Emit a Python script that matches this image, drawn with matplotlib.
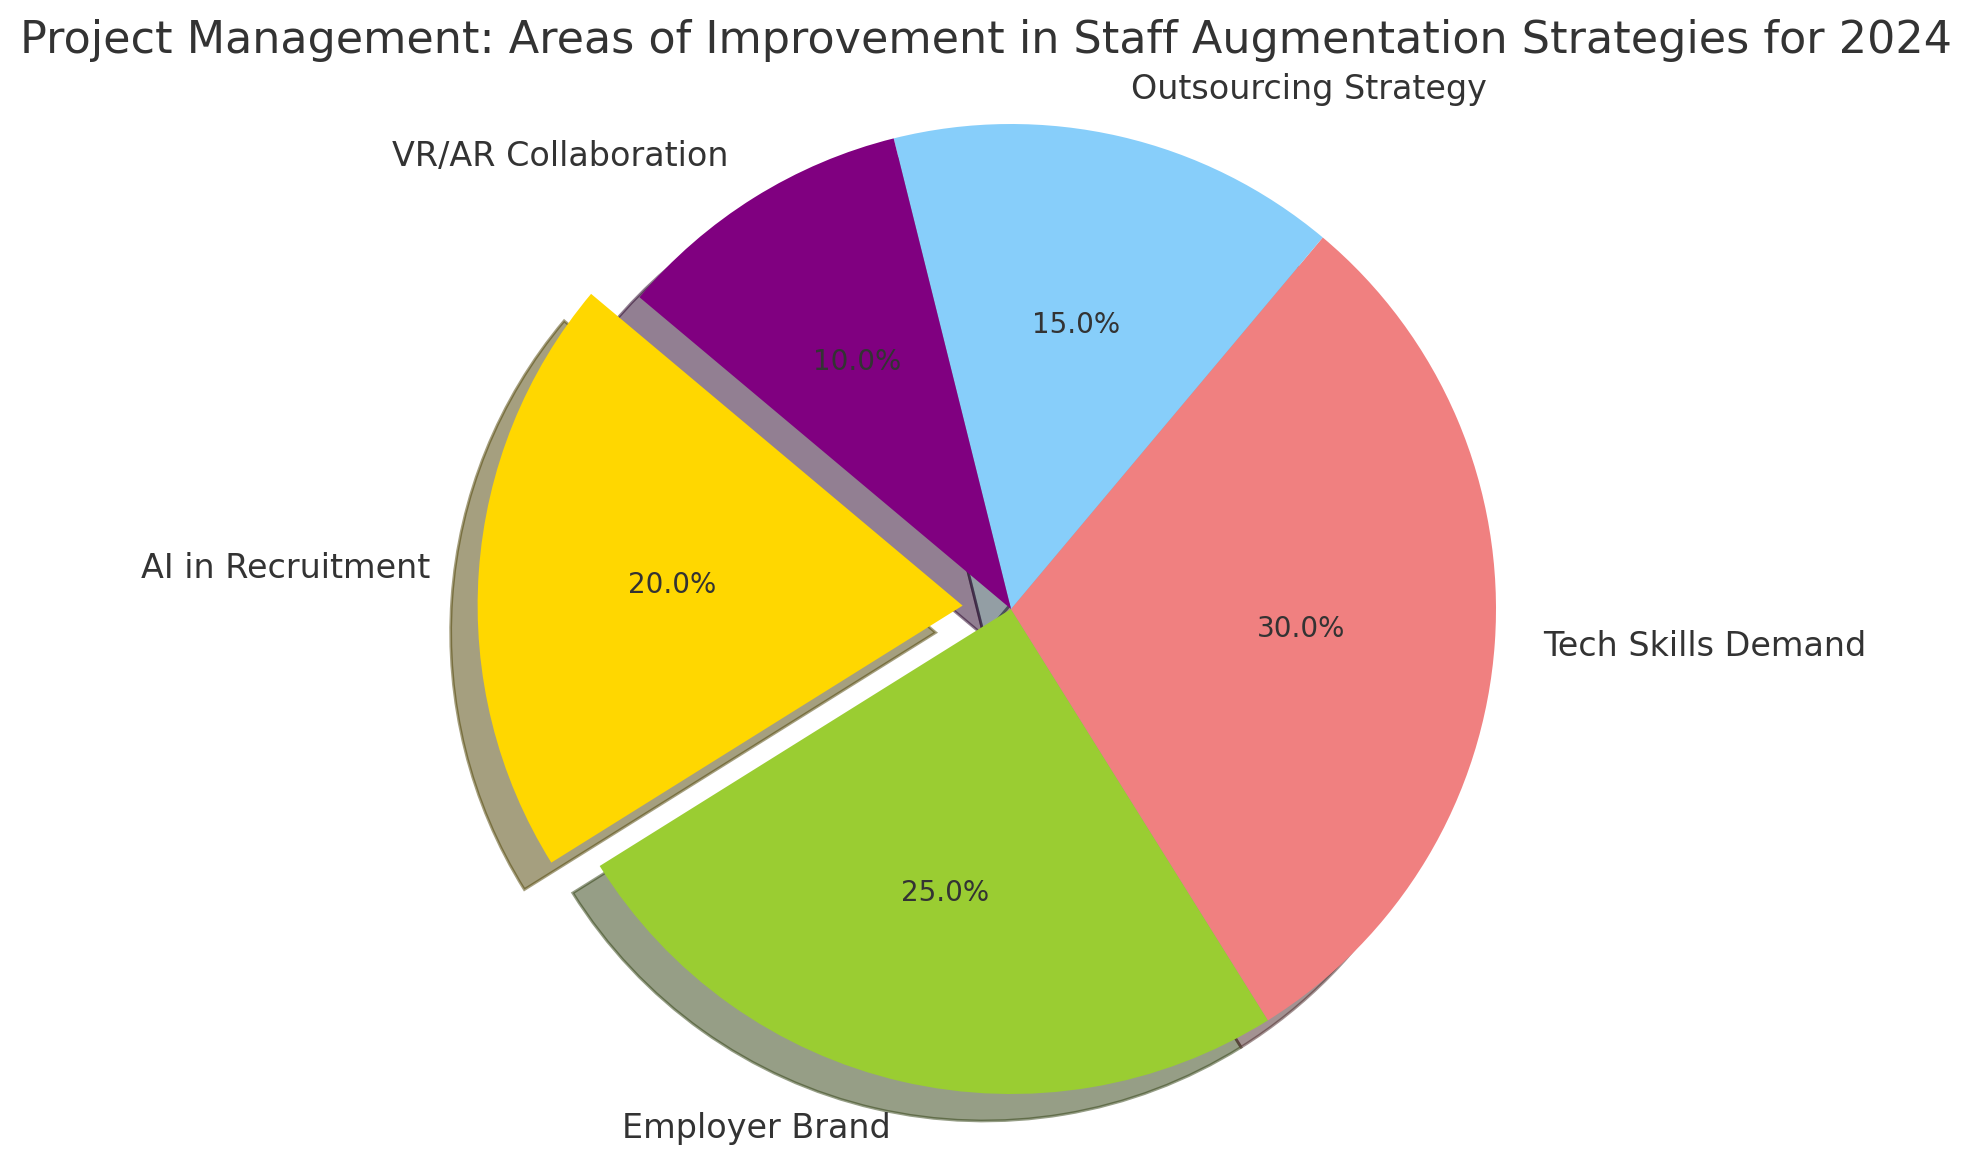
import matplotlib
matplotlib.use("Agg")
import matplotlib.pyplot as plt

# areas and their share (%)
areas = ["AI in Recruitment", "Employer Brand", "Tech Skills Demand",
         "Outsourcing Strategy", "VR/AR Collaboration"]
shares = [20, 25, 30, 15, 10]
colors = ["gold", "yellowgreen", "lightcoral", "lightskyblue", "purple"]
explode = [0.1, 0, 0, 0, 0]

title = "Project Management: Areas of Improvement in Staff Augmentation Strategies for 2024"
text_color = "#333333"

fig = plt.figure(figsize=(9.86, 5.84), dpi=200)
ax = fig.add_axes([0, 0, 1, 1])

wedges, texts, autotexts = ax.pie(
    shares, labels=areas, colors=colors, explode=explode,
    autopct="%1.1f%%", shadow=True, startangle=140,
    textprops={"color": text_color},
)
for t in texts:
    t.set_fontsize(12)
for t in autotexts:
    t.set_fontsize(10)

# place the pie like the reference (radius ~485 px, centre at 1011, 559)
r_px = 485.0
ax.set_xlim(-1011 / r_px, (1972 - 1011) / r_px)
ax.set_ylim(-559 / r_px, (1168 - 559) / r_px)
ax.set_aspect("auto")
ax.axis("off")

fig.text(0.5, 1 - 53 / 1168, title, ha="center", va="baseline",
         fontsize=16, color=text_color)

fig.savefig("out.png", dpi=200)
